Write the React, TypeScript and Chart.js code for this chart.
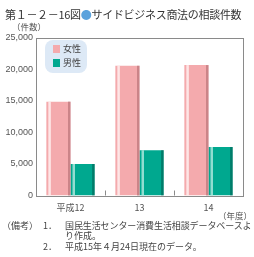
import React, { useEffect, useRef } from "react";
import { Chart, registerables } from "chart.js";

Chart.register(...registerables);

const categories = ["平成12", "13", "14"];
const femaleValues = [14900, 20600, 20700];
const maleValues = [5000, 7200, 7700];
const seriesNames = ["女性", "男性"];
const yTicks = [0, 5000, 10000, 15000, 20000, 25000];

const PINK = "#f4aaad";
const TEAL = "#00a88f";

const framePlugin = {
  id: "frame",
  afterDatasetsDraw(chart: any) {
    const ctx = chart.ctx;
    chart.data.datasets.forEach((ds: any, di: number) => {
      const meta = chart.getDatasetMeta(di);
      meta.data.forEach((bar: any) => {
        const p = bar.getProps(["x", "y", "base", "width"], true);
        const left = p.x - p.width / 2;
        const right = p.x + p.width / 2;
        const top = p.y;
        const h = p.base - p.y;
        ctx.save();
        ctx.fillStyle = di === 0 ? "rgba(255,240,240,0.85)" : "rgba(170,230,220,0.85)";
        ctx.fillRect(left + 2, top, 2.5, h);
        ctx.fillStyle = di === 0 ? "rgba(170,100,105,0.55)" : "rgba(0,70,60,0.45)";
        ctx.fillRect(right - 2.5, top, 2.5, h);
        ctx.restore();
      });
    });
    const a = chart.chartArea;
    ctx.save();
    ctx.strokeStyle = "#8a8a8a";
    ctx.lineWidth = 1;
    ctx.strokeRect(Math.round(a.left) + 0.5, Math.round(a.top) + 0.5, Math.round(a.right - a.left), Math.round(a.bottom - a.top));
    const xs = chart.scales.x;
    ctx.beginPath();
    for (let i = 0; i < categories.length - 1; i++) {
      const bx = Math.round((xs.getPixelForValue(i) + xs.getPixelForValue(i + 1)) / 2) + 0.5;
      ctx.moveTo(bx, a.bottom);
      ctx.lineTo(bx, a.bottom - 5);
    }
    ctx.stroke();
    ctx.restore();
  },
};

export default function App() {
  const ref = useRef<HTMLCanvasElement | null>(null);
  useEffect(() => {
    document.body.style.margin = "0";
    const chart = new Chart(ref.current as HTMLCanvasElement, {
      type: "bar",
      data: {
        labels: categories,
        datasets: [
          { label: seriesNames[0], data: femaleValues, backgroundColor: PINK, borderWidth: 0, categoryPercentage: 0.7, barPercentage: 1 },
          { label: seriesNames[1], data: maleValues, backgroundColor: TEAL, borderWidth: 0, categoryPercentage: 0.7, barPercentage: 1 },
        ],
      },
      options: {
        animation: false,
        responsive: false,
        maintainAspectRatio: false,
        layout: { padding: { top: 38, right: 11, left: 0, bottom: 0 } },
        plugins: { legend: { display: false }, tooltip: { enabled: false } },
        scales: {
          x: {
            grid: { display: false, drawTicks: false },
            border: { display: false },
            ticks: { color: "#555", font: { size: 9, family: "Noto Sans CJK JP" }, padding: 7, maxRotation: 0 },
            afterFit: (s: any) => { s.height = 61.5; },
          },
          y: {
            min: 0,
            max: 25000,
            grid: { display: false, drawTicks: false },
            border: { display: false },
            afterBuildTicks: (s: any) => { s.ticks = yTicks.map((v) => ({ value: v })); },
            ticks: {
              color: "#555",
              font: { size: 9, family: "Liberation Sans" },
              padding: 3,
              callback: (v: any) => Number(v).toLocaleString("en-US"),
            },
            afterFit: (s: any) => { s.width = 36; },
          },
        },
      },
      plugins: [framePlugin],
    });
    return () => chart.destroy();
  }, []);

  const jp = "'Noto Sans CJK JP', sans-serif";
  const abs = (l: number, t: number, extra: any = {}) => ({ position: "absolute" as const, left: l, top: t, whiteSpace: "nowrap" as const, ...extra });

  return (
    <div style={{ position: "relative", width: 254, height: 257, background: "#fff", overflow: "hidden", fontFamily: jp, color: "#333" }}>
      <canvas ref={ref} width={254} height={257} style={{ position: "absolute", left: 0, top: 0 }} />
      <div style={abs(5, 6, { fontSize: 11, lineHeight: "16px", color: "#333", letterSpacing: "-0.3px" })}>
        第１－２－16図<span style={{ color: "#5aa2dc" }}>●</span>サイドビジネス商法の相談件数
      </div>
      <div style={abs(12, 21, { fontSize: 8.5, lineHeight: "11px", color: "#555" })}>（件数）</div>
      <div style={abs(45, 40, { width: 42, height: 33, background: "#dde9f6", borderRadius: 8 })} />
      <div style={abs(53, 43, { fontSize: 9, lineHeight: "12px", color: "#444" })}>
        <span style={{ display: "inline-block", width: 7, height: 8, background: PINK, marginRight: 3, verticalAlign: "-1px" }} />{seriesNames[0]}
      </div>
      <div style={abs(53, 57, { fontSize: 9, lineHeight: "12px", color: "#444" })}>
        <span style={{ display: "inline-block", width: 7, height: 8, background: TEAL, marginRight: 3, verticalAlign: "-1px" }} />{seriesNames[1]}
      </div>
      <div style={abs(218, 210, { fontSize: 8.5, lineHeight: "11px", color: "#555" })}>（年度）</div>
      <div style={abs(2, 220, { fontSize: 9, lineHeight: "12px", color: "#444" })}>（備考）</div>
      <div style={abs(43, 220, { fontSize: 9, lineHeight: "12px", color: "#444" })}>1．</div>
      <div style={abs(65, 220, { fontSize: 9, lineHeight: "12px", color: "#444", letterSpacing: "-0.1px" })}>国民生活センター消費生活相談データベースよ</div>
      <div style={abs(65, 230, { fontSize: 9, lineHeight: "12px", color: "#444" })}>り作成。</div>
      <div style={abs(43, 241, { fontSize: 9, lineHeight: "12px", color: "#444" })}>2．</div>
      <div style={abs(65, 241, { fontSize: 9, lineHeight: "12px", color: "#444" })}>平成15年４月24日現在のデータ。</div>
    </div>
  );
}
